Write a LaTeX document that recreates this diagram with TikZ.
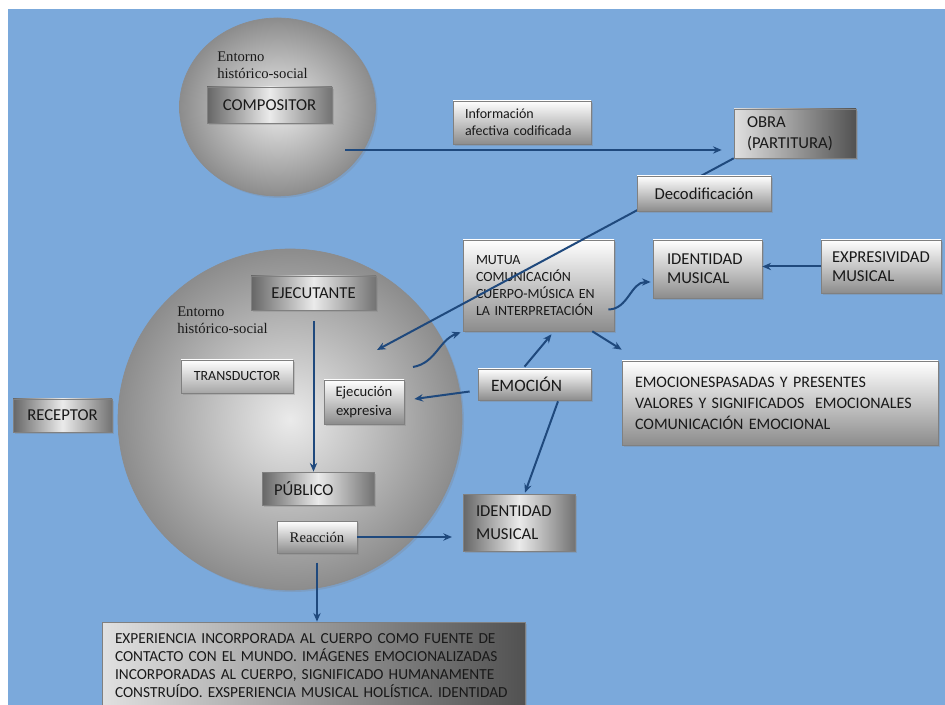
\documentclass[tikz,border=0pt]{standalone}
\usepackage{fontspec}
\setmainfont{Carlito}
\newfontfamily\entfont{Liberation Serif}
\usepackage{xcolor}
\usepackage{tikz}
\usetikzlibrary{shapes.geometric, shadows, arrows.meta}

\definecolor{bgblue}{RGB}{123,169,219}
\definecolor{arrowblue}{RGB}{31,73,125}
\newdimen\pxu \pxu=0.75pt

\begin{document}
\begin{tikzpicture}[x=0.75pt, y=-0.75pt]
  % Define styles
  \tikzstyle{box} = [rectangle, draw=black!50, line width=0.5pt, inner sep=0pt, top color=white, bottom color=black!45, drop shadow={opacity=0.3, shadow xshift=1.5pt, shadow yshift=-1.5pt}, text=black!90, font=\fontsize{12.5}{14.25}\selectfont]
  \tikzstyle{darkbox} = [box, left color=black!60, right color=black!55, middle color=black!8]
  \tikzstyle{fadebox} = [box, left color=black!12, right color=black!68]
  \tikzstyle{disc} = [ellipse, draw=black!45, line width=0.5pt, inner sep=0pt, inner color=black!8, outer color=black!45, drop shadow={opacity=0.25, shadow xshift=1.5pt, shadow yshift=-1.5pt}]
  \tikzstyle{serif} = [inner sep=0pt, align=left, text=black!90, font=\entfont\fontsize{11}{12.75}\selectfont]
  \tikzstyle{arrow} = [->, >={Stealth[length=6.5pt, width=5.5pt]}, line width=1.5pt, draw=arrowblue]

  % Background
  \useasboundingbox (0,0) rectangle (945,705);
  \clip (0,0) rectangle (945,705);
  \fill[white] (0,0) rectangle (945,705);
  \fill[bgblue] (8,9) rectangle (945,705);

  % Circles
  \node[disc, minimum width=196\pxu, minimum height=178\pxu] (envtop) at (277.5,107) {};
  \node[disc, minimum width=344\pxu, minimum height=341\pxu] (envbig) at (290,419.5) {};
  \node[serif, anchor=west] (envtoptext) at (217,65) {Entorno\\histórico-social};
  \node[serif, anchor=west] (envbigtext) at (177,320.5) {Entorno\\histórico-social};

  % Nodes
  \node[darkbox, minimum width=125\pxu, minimum height=36\pxu] (compositor) at (269.5,105) {COMPOSITOR};
  \node[box, minimum width=138\pxu, minimum height=43\pxu, inner xsep=12\pxu, text width=114\pxu, align=left, font=\fontsize{10.5}{12.75}\selectfont] (info) at (522,122.5) {Información\\afectiva codificada};
  \node[fadebox, minimum width=122\pxu, minimum height=49\pxu, inner xsep=13\pxu, text width=96\pxu, align=left, font=\fontsize{12.5}{15.75}\selectfont] (obra) at (795,133.5) {OBRA\\(PARTITURA)};
  \node[box, minimum width=151\pxu, minimum height=91\pxu, inner xsep=13\pxu, text width=125\pxu, align=left, font=\fontsize{10.5}{12.75}\selectfont] (mutua) at (538.5,285.5) {MUTUA\\COMUNICACIÓN\\CUERPO-MÚSICA EN\\LA INTERPRETACIÓN};
  \node[box, minimum width=109\pxu, minimum height=58\pxu, inner xsep=14\pxu, text width=81\pxu, align=left] (identA) at (707.5,269) {IDENTIDAD\\MUSICAL};
  \node[box, minimum width=120\pxu, minimum height=53\pxu, inner xsep=11\pxu, text width=98\pxu, align=left] (expres) at (881,266.5) {EXPRESIVIDAD\\MUSICAL};
  \node[box, minimum width=316\pxu, minimum height=84\pxu, inner xsep=13\pxu, text width=290\pxu, align=left, font=\fontsize{12}{15.75}\selectfont] (emoc) at (780,403) {EMOCIONESPASADAS Y PRESENTES\\VALORES Y SIGNIFICADOS \ EMOCIONALES\\COMUNICACIÓN EMOCIONAL};
  \node[darkbox, minimum width=125\pxu, minimum height=34\pxu] (ejecutante) at (313.5,293) {EJECUTANTE};
  \node[box, top color=white, bottom color=black!35, minimum width=112\pxu, minimum height=33\pxu, font=\fontsize{10.5}{12}\selectfont] (transductor) at (237,376.5) {TRANSDUCTOR};
  \node[box, minimum width=80\pxu, minimum height=44\pxu, align=center, font=\fontsize{11}{14}\selectfont] (ejecexp) at (364,402) {Ejecución\\expresiva};
  \node[box, minimum width=113\pxu, minimum height=31\pxu, inner xsep=13\pxu, text width=87\pxu, align=left, font=\fontsize{13}{14}\selectfont] (emocion) at (534.5,384.5) {EMOCIÓN};
  \node[darkbox, minimum width=99\pxu, minimum height=33\pxu] (receptor) at (62.5,415.5) {RECEPTOR};
  \node[darkbox, minimum width=112\pxu, minimum height=33\pxu, inner xsep=12\pxu, text width=88\pxu, align=left] (publico) at (318,488.5) {PÚBLICO};
  \node[box, minimum width=80\pxu, minimum height=32\pxu, font=\entfont\fontsize{11}{13}\selectfont] (reaccion) at (317,537) {Reacción};
  \node[darkbox, minimum width=112\pxu, minimum height=57\pxu, inner xsep=13\pxu, text width=86\pxu, align=left, font=\fontsize{12.5}{17}\selectfont] (identB) at (519,522.5) {IDENTIDAD\\MUSICAL};
  \node[fadebox, minimum width=423\pxu, minimum height=88\pxu, inner xsep=13\pxu, text width=397\pxu, align=left, font=\fontsize{11.5}{13.5}\selectfont] (bottom) at (313.5,666) {EXPERIENCIA INCORPORADA AL CUERPO COMO FUENTE DE\\CONTACTO CON EL MUNDO. IMÁGENES EMOCIONALIZADAS\\INCORPORADAS AL CUERPO, SIGNIFICADO HUMANAMENTE\\CONSTRUÍDO. EXSPERIENCIA MUSICAL HOLÍSTICA. IDENTIDAD};

  % Free ends
  \coordinate (infostart) at (345,150);
  \coordinate (decodend) at (377,350);
  \coordinate (curvestart) at (413,367);

  % Edges
  \draw[arrow, shorten >=9pt] (infostart) -- (infostart -| obra.west);
  \draw[arrow] (obra.south west) -- (decodend);
  \draw[arrow] (expres.west) -- (expres.west -| identA.east);
  \draw[arrow] ([shift={(-6,24)}]mutua.east) to[out=0, in=180] ([shift={(-2,13)}]identA.west);
  \draw[arrow] ([shift={(-22,0)}]mutua.south east) -- ([shift={(0,-11)}]emoc.north west);
  \draw[arrow] ([shift={(-8,7)}]emocion.west) -- ([shift={(10,-3)}]ejecexp.east);
  \draw[arrow] ([shift={(-10,-2)}]emocion.north) -- ([shift={(13,3)}]mutua.south);
  \draw[arrow] ([shift={(23.5,1)}]emocion.south) -- ([shift={(6,-1)}]identB.north);
  \draw[arrow, shorten <=8pt] (ejecutante.south) -- (ejecutante.south |- publico.north);
  \draw[arrow, shorten >=8pt] (reaccion.east) -- (reaccion.east -| identB.west);
  \draw[arrow, shorten <=7pt] (reaccion.south) -- (reaccion.south |- bottom.north);
  \draw[arrow] (curvestart) to[out=10, in=200] ([shift={(-2,1)}]mutua.south west);

  % Drawn last, over the decoding line
  \node[box, minimum width=134\pxu, minimum height=35\pxu] (decod) at (704,193.5) {Decodificación};
\end{tikzpicture}
\end{document}
